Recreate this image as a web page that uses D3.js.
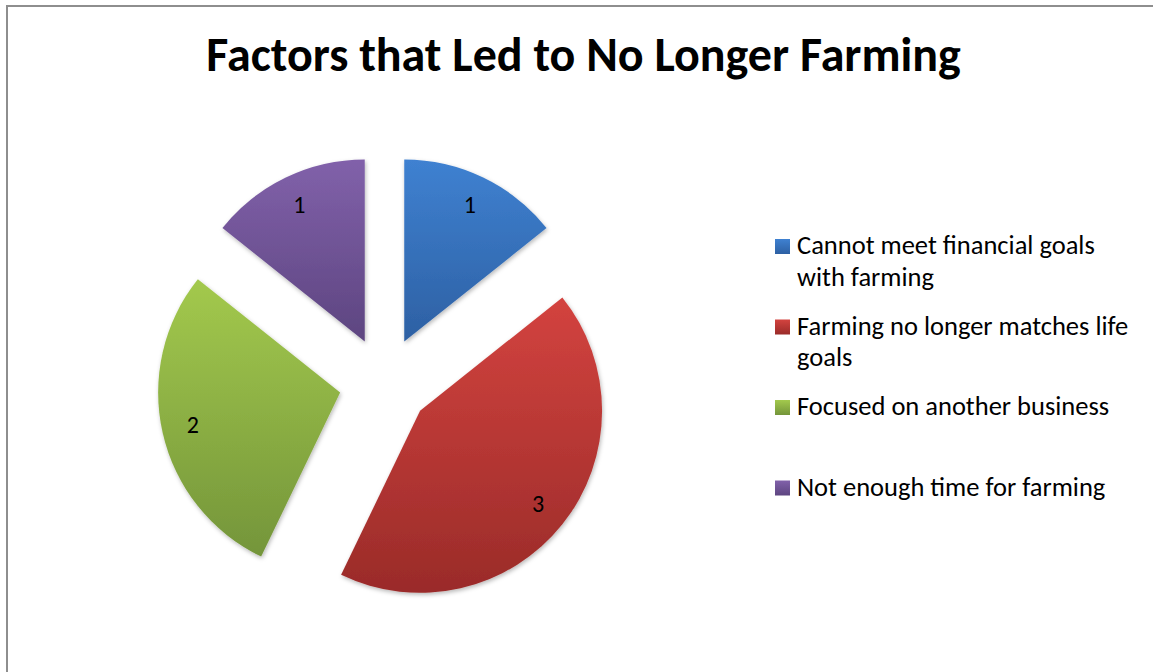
<!DOCTYPE html>
<html>
<head>
<meta charset="utf-8">
<script src="https://cdn.jsdelivr.net/npm/d3@7"></script>
<style>
  html, body { margin: 0; padding: 0; background: #fff; }
  svg { display: block; }
</style>
</head>
<body>
<svg id="chart" width="1153" height="672"></svg>
<script>
// Chart data
const chartTitle = "Factors that Led to No Longer Farming";
const categories = [
  "Cannot meet financial goals with farming",
  "Farming no longer matches life goals",
  "Focused on another business",
  "Not enough time for farming"
];
const values = [1, 3, 2, 1];
const colorsTop = ["#3f81d1", "#d3433f", "#a3c94d", "#8161aa"];
const colorsBottom = ["#2d60a3", "#9a2b29", "#74953a", "#5d4580"];

const FONT = "Carlito, Lato, 'Open Sans', sans-serif";

const svg = d3.select("#chart");
const W = 1153, H = 672;

// Outer frame
svg.append("rect")
  .attr("x", 7).attr("y", 6)
  .attr("width", W).attr("height", H)
  .attr("fill", "#fff")
  .attr("stroke", "#8e8e8e")
  .attr("stroke-width", 2);

// Title
svg.append("text")
  .attr("x", 583.5).attr("y", 71)
  .attr("text-anchor", "middle")
  .attr("font-family", FONT)
  .attr("font-weight", "bold")
  .attr("font-size", 48)
  .attr("fill", "#000")
  .text(chartTitle);

const defs = svg.append("defs");

// Per-slice vertical gradients
values.forEach((v, i) => {
  const g = defs.append("linearGradient")
    .attr("id", "grad" + i)
    .attr("x1", 0).attr("y1", 0).attr("x2", 0).attr("y2", 1);
  g.append("stop").attr("offset", "0%").attr("stop-color", colorsTop[i]);
  g.append("stop").attr("offset", "100%").attr("stop-color", colorsBottom[i]);
});

// Soft shadow under slices
const f = defs.append("filter").attr("id", "shadow")
  .attr("x", "-20%").attr("y", "-20%").attr("width", "140%").attr("height", "140%");
f.append("feDropShadow")
  .attr("dx", 1).attr("dy", 2).attr("stdDeviation", 2)
  .attr("flood-color", "#000").attr("flood-opacity", 0.28);

// Exploded pie
const cx = 384.5, cy = 382.5, radius = 182, explode = 45.5;
const pie = d3.pie().sort(null).value(d => d)(values);
const arc = d3.arc().innerRadius(0).outerRadius(radius);
const labelArc = d3.arc().innerRadius(151).outerRadius(151);

const pieG = svg.append("g").attr("transform", `translate(${cx},${cy})`);

const slices = pieG.selectAll("g.slice")
  .data(pie)
  .enter().append("g")
  .attr("class", "slice")
  .attr("transform", d => {
    const a = (d.startAngle + d.endAngle) / 2;
    return `translate(${explode * Math.sin(a)},${-explode * Math.cos(a)})`;
  });

slices.append("path")
  .attr("d", arc)
  .attr("fill", (d, i) => `url(#grad${i})`)
  .attr("filter", "url(#shadow)");

slices.append("text")
  .attr("transform", d => `translate(${labelArc.centroid(d)})`)
  .attr("text-anchor", "middle")
  .attr("dy", "0.3em")
  .attr("font-family", FONT)
  .attr("font-size", 24)
  .attr("fill", "#000")
  .text(d => d.data);

// Legend
const legendX = 775, legendY0 = 254, legendStep = 80.5, lineH = 31.5, wrapW = 340;
const legend = svg.append("g");

categories.forEach((name, i) => {
  const y = legendY0 + i * legendStep;
  legend.append("rect")
    .attr("x", legendX).attr("y", y - 15)
    .attr("width", 15).attr("height", 15)
    .attr("fill", `url(#grad${i})`);
  const t = legend.append("text")
    .attr("font-family", FONT)
    .attr("font-size", 26.5)
    .attr("fill", "#000");
  // word wrap into the legend column
  const words = name.split(" ");
  let line = [], row = 0;
  let tspan = t.append("tspan").attr("x", legendX + 22).attr("y", y);
  words.forEach(w => {
    line.push(w);
    tspan.text(line.join(" "));
    if (tspan.node().getComputedTextLength() > wrapW && line.length > 1) {
      line.pop();
      tspan.text(line.join(" "));
      line = [w];
      row++;
      tspan = t.append("tspan").attr("x", legendX + 22).attr("y", y + row * lineH).text(w);
    }
  });
});
</script>
</body>
</html>
